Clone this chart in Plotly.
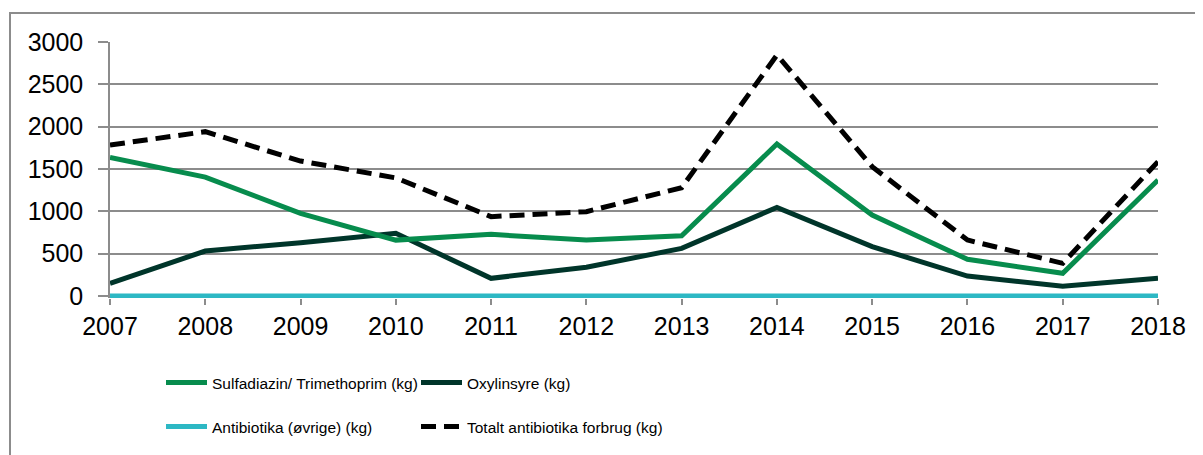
import plotly.graph_objects as go

years = [2007, 2008, 2009, 2010, 2011, 2012, 2013, 2014, 2015, 2016, 2017, 2018]
sulfa = [1635, 1405, 975, 660, 728, 660, 712, 1795, 957, 433, 268, 1370]
oxy = [150, 531, 630, 740, 209, 339, 563, 1047, 583, 236, 115, 209]
ovrige = [0, 0, 0, 0, 0, 0, 0, 0, 0, 0, 0, 0]
total = [1783, 1941, 1594, 1395, 937, 996, 1279, 2846, 1527, 661, 386, 1586]
ytick_vals = [0, 500, 1000, 1500, 2000, 2500, 3000]

names = ["Sulfadiazin/ Trimethoprim (kg)", "Oxylinsyre (kg)",
         "Antibiotika (øvrige) (kg)", "Totalt antibiotika forbrug (kg)"]

GREEN = "#078C4D"
DARK = "#00352A"
TEAL = "#2DB8C4"
GRID = "#8C8C8C"

# page body has an 8px margin, so the figure starts at (8, 8) in the window
OFF = 8
W, H = 1203 - OFF, 455 - OFF
L, R, T, B = 110 - OFF, 45, 42 - OFF, 157
pw, ph = W - L - R, H - T - B

def px_x(p):
    return (p - OFF - L) / pw

def px_y(p):
    return (H - B - (p - OFF)) / ph

fig = go.Figure()
fig.add_trace(go.Scatter(x=years, y=ovrige, name=names[2], mode="lines",
                         line=dict(color=TEAL, width=5), legend="legend3"))
fig.add_trace(go.Scatter(x=years, y=oxy, name=names[1], mode="lines",
                         line=dict(color=DARK, width=5), legend="legend2"))
fig.add_trace(go.Scatter(x=years, y=sulfa, name=names[0], mode="lines",
                         line=dict(color=GREEN, width=5), legend="legend"))
fig.add_trace(go.Scatter(x=years, y=total, name=names[3], mode="lines",
                         line=dict(color="#000000", width=5, dash="15px,8px"),
                         legend="legend4"))

legfont = dict(family="Liberation Sans, Arial", size=15.5, color="#000000")
row1, row2 = 383, 427
col1, col2 = 161, 416

def leg(x, y):
    return dict(x=px_x(x), y=px_y(y), xanchor="left", yanchor="middle",
                orientation="h", font=legfont, bgcolor="rgba(0,0,0,0)",
                borderwidth=0, itemwidth=41)

fig.update_layout(
    width=W, height=H,
    margin=dict(l=L, r=R, t=T, b=B, autoexpand=False),
    paper_bgcolor="white", plot_bgcolor="white",
    font=dict(family="Liberation Sans, Arial", size=25, color="#000000"),
    showlegend=True,
    legend=leg(col1, row1),
    legend2=leg(col2, row1),
    legend3=leg(col1, row2),
    legend4=leg(col2, row2),
    xaxis=dict(range=[2007, 2018], tickmode="array", tickvals=years,
               ticktext=[str(y) for y in years],
               showgrid=False, zeroline=False, showline=False,
               ticks="outside", ticklen=6, tickwidth=1.5, tickcolor=GRID,
               tickfont=dict(size=25)),
    yaxis=dict(range=[-23.6, 3000], tickmode="array", tickvals=ytick_vals,
               showgrid=True, gridcolor=GRID, gridwidth=1.5, zeroline=False,
               showline=True, linecolor=GRID, linewidth=1.5,
               ticks="outside", ticklen=10, tickwidth=1.5, tickcolor=GRID,
               ticklabelstandoff=10, tickfont=dict(size=25)),
    shapes=[dict(type="rect", xref="paper", yref="paper",
                 x0=px_x(10), x1=px_x(1215), y0=px_y(470), y1=px_y(13),
                 line=dict(color=GRID, width=2), layer="below")],
)

fig.write_html("out.html")
